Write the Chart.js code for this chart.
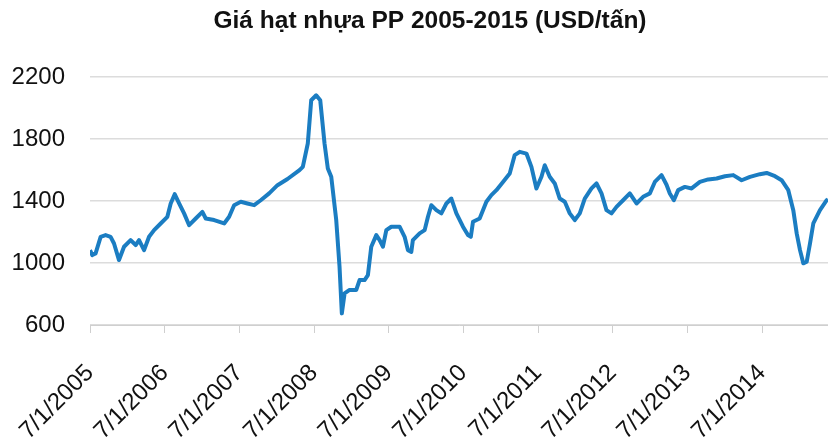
<!DOCTYPE html>
<html>
<head>
<meta charset="utf-8">
<script src="https://cdn.jsdelivr.net/npm/chart.js@4/dist/chart.umd.min.js"></script>
<style>
  html, body { margin: 0; padding: 0; background: #fff; }
  #wrap { width: 828px; height: 442px; }
</style>
</head>
<body>
<div id="wrap"><canvas id="ppChart"></canvas></div>
<script>
// months since 7/1/2005
const months = [
  0, 0.37, 0.9, 1.71, 2.51, 3.31, 3.86, 4.66, 5.47, 6.53, 7.34, 7.88, 8.69, 9.49, 10.3, 11.36, 12.43, 12.97, 13.61, 14.32,
  15.12, 15.93, 16.99, 18.06, 18.6, 19.95, 21.56, 22.36, 23.16, 24.23, 25.3, 26.38, 27.44, 28.79, 30.13, 31.74, 33.67, 34.2, 35.0, 35.55,
  36.35, 37.0, 37.69, 38.22, 38.77, 39.57, 40.1, 40.47, 40.91, 41.71, 42.79, 43.32, 44.12, 44.66, 45.2, 46.01, 46.54, 47.07, 47.62, 48.42,
  49.75, 50.56, 51.09, 51.64, 51.89, 52.97, 53.78, 54.31, 54.85, 55.66, 56.46, 57.27, 58.07, 58.88, 59.94, 60.74, 61.2, 61.55, 62.62, 63.7,
  64.5, 65.31, 66.37, 67.45, 68.25, 69.06, 70.14, 70.94, 71.74, 72.55, 73.08, 73.88, 74.69, 75.49, 76.3, 77.1, 77.91, 78.71, 79.51, 80.59,
  81.4, 82.2, 83.0, 83.81, 84.61, 85.67, 86.75, 87.83, 88.89, 89.97, 90.77, 91.85, 92.65, 93.18, 93.83, 94.52, 95.6, 96.68, 98.01, 99.35,
  100.7, 102.04, 103.37, 104.72, 106.06, 107.66, 108.74, 110.08, 111.15, 112.22, 113.02, 113.57, 114.1, 114.63, 115.18, 115.71, 116.24, 117.31, 118.39, 118.6
];
// PP price, USD/ton
const prices = [
  1083, 1051, 1062, 1169, 1180, 1169, 1126, 1019, 1105, 1148, 1116, 1148, 1083, 1169, 1212, 1255, 1298, 1384, 1444, 1384,
  1320, 1244, 1287, 1330, 1287, 1277, 1255, 1298, 1373, 1395, 1384, 1373, 1405, 1449, 1502, 1542, 1599, 1620, 1771, 2050,
  2082, 2050, 1771, 1610, 1556, 1277, 976, 675, 804, 826, 826, 890, 890, 922, 1105, 1180, 1148, 1105, 1212, 1234,
  1234, 1169, 1083, 1072, 1148, 1191, 1212, 1298, 1373, 1341, 1320, 1384, 1416, 1320, 1234, 1180, 1169, 1266, 1287, 1395,
  1438, 1470, 1523, 1578, 1696, 1717, 1706, 1620, 1481, 1556, 1631, 1556, 1513, 1416, 1395, 1320, 1277, 1320, 1416, 1481,
  1513, 1449, 1341, 1320, 1362, 1405, 1449, 1384, 1427, 1449, 1523, 1567, 1505, 1448, 1405, 1470, 1491, 1481, 1523, 1539,
  1545, 1560, 1567, 1534, 1556, 1573, 1581, 1560, 1534, 1470, 1341, 1191, 1083, 998, 1008, 1126, 1255, 1341, 1405, 1410
];
const tickYears = [2005, 2006, 2007, 2008, 2009, 2010, 2011, 2012, 2013, 2014];
const yTicks = [600, 1000, 1400, 1800, 2200];
const titleText = "Giá hạt nhựa PP 2005-2015 (USD/tấn)";

const FONT = "'Liberation Sans', Arial, sans-serif";

const points = months.map((m, i) => ({ x: m, y: prices[i] }));

// title sits a bit right of the canvas centre in the original
const titlePlugin = {
  id: "offsetTitle",
  afterDraw(chart) {
    const ctx = chart.ctx;
    ctx.save();
    ctx.font = "bold 24.5px " + FONT;
    ctx.fillStyle = "#111";
    ctx.textAlign = "center";
    ctx.textBaseline = "middle";
    ctx.fillText(titleText, 430, 21);
    ctx.restore();
  }
};

new Chart(document.getElementById("ppChart"), {
  type: "line",
  data: {
    datasets: [{
      label: "PP",
      data: points,
      borderColor: "#1b7dc2",
      borderWidth: 4,
      pointRadius: 0,
      tension: 0,
      borderJoinStyle: "round"
    }]
  },
  options: {
    responsive: true,
    maintainAspectRatio: false,
    animation: false,
    layout: { padding: { left: 0, right: 0, top: 77, bottom: 0 } },
    plugins: {
      legend: { display: false },
      tooltip: { enabled: false },
      title: { display: false }
    },
    scales: {
      x: {
        type: "linear",
        min: 0,
        max: 118.6,
        afterBuildTicks: (axis) => {
          axis.ticks = tickYears.map(y => ({ value: (y - 2005) * 12 }));
        },
        afterFit: (axis) => {
          axis.height = 117;
          // rotated labels hang left under the y labels, no extra room needed
          axis.paddingLeft = 0;
          axis.paddingRight = 0;
        },
        ticks: {
          minRotation: 45,
          maxRotation: 45,
          autoSkip: false,
          padding: 26,
          color: "#111",
          font: { family: FONT, size: 24 },
          callback: (v) => "7/1/" + (2005 + Math.round(v / 12))
        },
        grid: {
          drawOnChartArea: false,
          drawTicks: true,
          tickLength: 8,
          color: "#cfcfcf"
        },
        border: { display: true, color: "#cfcfcf" }
      },
      y: {
        min: 600,
        max: 2200,
        afterBuildTicks: (axis) => {
          axis.ticks = yTicks.map(v => ({ value: v }));
        },
        afterFit: (axis) => { axis.width = 90; },
        ticks: {
          padding: 25,
          color: "#111",
          font: { family: FONT, size: 24 },
          callback: (v) => String(v)
        },
        grid: {
          drawTicks: false,
          color: "#dcdcdc",
          lineWidth: 1.5
        },
        border: { display: false }
      }
    }
  },
  plugins: [titlePlugin]
});
</script>
</body>
</html>
